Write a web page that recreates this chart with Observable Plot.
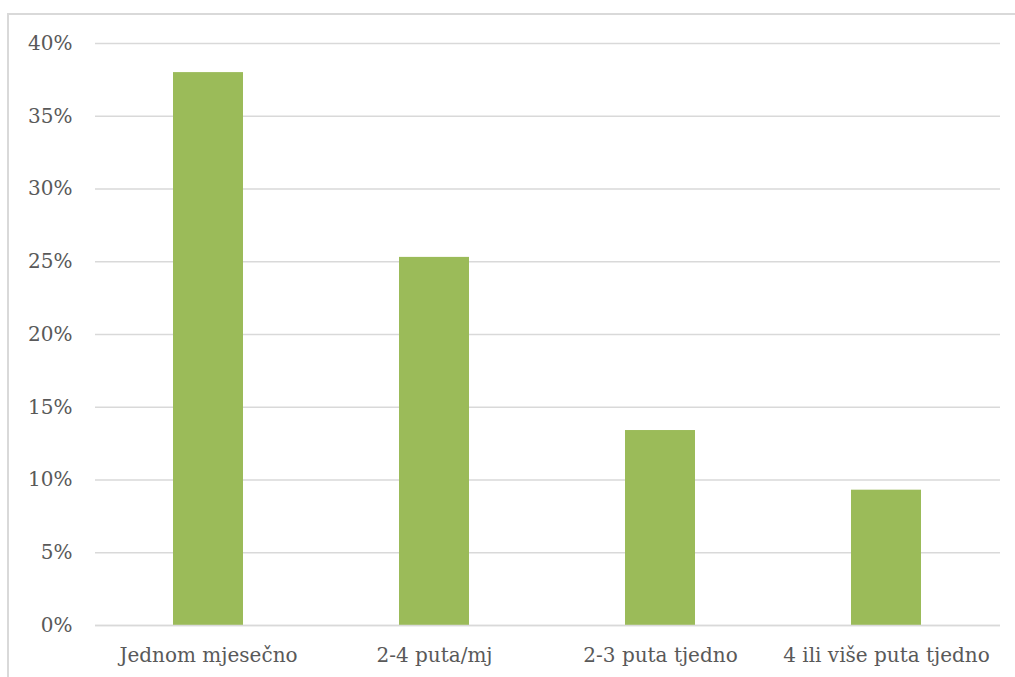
<!DOCTYPE html>
<html>
<head>
<meta charset="utf-8">
<script src="https://cdn.jsdelivr.net/npm/d3@7"></script>
<script src="https://cdn.jsdelivr.net/npm/@observablehq/plot@0.6"></script>
<style>
  html, body { margin: 0; padding: 0; background: #fff; overflow: hidden; }
  #frame { position: absolute; left: 7px; top: 13px; width: 1020px; height: 700px; border: 2px solid #d9d9d9; box-sizing: border-box; }
  #chart { position: absolute; left: 0; top: 0; }
</style>
</head>
<body>
<div id="frame"></div>
<div id="chart"></div>
<script>
const categories = ["Jednom mjesečno", "2-4 puta/mj", "2-3 puta tjedno", "4 ili više puta tjedno"];
const values = [0.38, 0.253, 0.134, 0.093];
const yTicks = [0, 0.05, 0.10, 0.15, 0.20, 0.25, 0.30, 0.35, 0.40];

const data = categories.map((c, i) => ({category: c, value: values[i]}));
const font = "'DejaVu Serif', 'Liberation Serif', serif";

const chart = Plot.plot({
  width: 1015,
  height: 677,
  marginLeft: 95,
  marginRight: 15,
  marginTop: 43,
  marginBottom: 52,
  style: {fontFamily: font, background: "transparent"},
  x: {domain: categories, paddingInner: 0.69, paddingOuter: 0.345, label: null},
  y: {domain: [0, 0.4], label: null},
  marks: [
    Plot.gridY(yTicks, {stroke: "#d9d9d9", strokeOpacity: 1, strokeWidth: 1.5}),
    Plot.barY(data, {x: "category", y: "value", fill: "#9bbb59"}),
    Plot.ruleY([0], {stroke: "#d9d9d9", strokeWidth: 1.5}),
    Plot.axisY(yTicks, {tickFormat: d => Math.round(d * 100) + "%", tickSize: 0, tickPadding: 23, fontSize: 20, fill: "#595959", label: null}),
    Plot.axisX({tickSize: 0, tickPadding: 22, fontSize: 20, fill: "#595959", label: null})
  ]
});
document.getElementById("chart").appendChild(chart);
</script>
</body>
</html>
